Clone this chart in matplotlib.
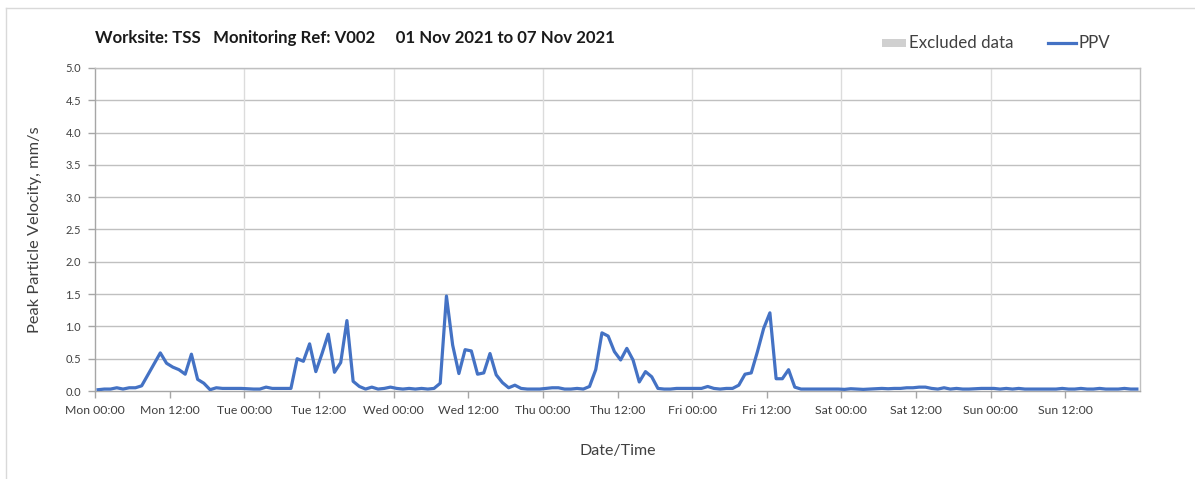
import matplotlib
matplotlib.use("Agg")
import matplotlib.pyplot as plt
from matplotlib.patches import Rectangle
from matplotlib.lines import Line2D
import numpy as np

# hourly PPV values (mm/s), Mon 00:00 .. Sun 23:00, plotted at the half hour
ppv = [
    # Mon
    0.02, 0.03, 0.03, 0.05, 0.03, 0.05, 0.05, 0.08, 0.25, 0.42, 0.59, 0.43,
    0.37, 0.33, 0.26, 0.57, 0.18, 0.12, 0.02, 0.05, 0.04, 0.04, 0.04, 0.04,
    # Tue
    0.035, 0.03, 0.03, 0.06, 0.04, 0.04, 0.04, 0.04, 0.50, 0.46, 0.73, 0.30,
    0.58, 0.88, 0.29, 0.44, 1.09, 0.15, 0.07, 0.03, 0.06, 0.03, 0.04, 0.06,
    # Wed
    0.04, 0.03, 0.04, 0.03, 0.04, 0.03, 0.04, 0.12, 1.47, 0.71, 0.27, 0.64,
    0.62, 0.26, 0.28, 0.58, 0.25, 0.13, 0.05, 0.09, 0.04, 0.03, 0.03, 0.03,
    # Thu
    0.04, 0.05, 0.05, 0.03, 0.03, 0.04, 0.03, 0.07, 0.33, 0.90, 0.85, 0.61,
    0.48, 0.66, 0.48, 0.14, 0.30, 0.22, 0.04, 0.03, 0.03, 0.04, 0.04, 0.04,
    # Fri
    0.04, 0.04, 0.07, 0.04, 0.03, 0.04, 0.04, 0.09, 0.26, 0.28, 0.61, 0.97,
    1.21, 0.19, 0.19, 0.33, 0.06, 0.03, 0.03, 0.03, 0.03, 0.03, 0.03, 0.03,
    # Sat
    0.025, 0.035, 0.03, 0.025, 0.03, 0.035, 0.04, 0.035, 0.04, 0.04, 0.05, 0.05,
    0.06, 0.06, 0.04, 0.03, 0.05, 0.03, 0.04, 0.03, 0.03, 0.035, 0.04, 0.04,
    # Sun
    0.04, 0.03, 0.04, 0.03, 0.04, 0.03, 0.03, 0.03, 0.03, 0.03, 0.03, 0.04,
    0.03, 0.03, 0.04, 0.03, 0.03, 0.04, 0.03, 0.03, 0.03, 0.04, 0.03, 0.03,
]
hours = np.arange(len(ppv)) + 0.5

tick_labels = ["Mon 00:00", "Mon 12:00", "Tue 00:00", "Tue 12:00", "Wed 00:00",
               "Wed 12:00", "Thu 00:00", "Thu 12:00", "Fri 00:00", "Fri 12:00",
               "Sat 00:00", "Sat 12:00", "Sun 00:00", "Sun 12:00"]
y_ticks = [0.0, 0.5, 1.0, 1.5, 2.0, 2.5, 3.0, 3.5, 4.0, 4.5, 5.0]

title = "Worksite: TSS   Monitoring Ref: V002     01 Nov 2021 to 07 Nov 2021"

plt.rcParams['font.family'] = ['Lato', 'DejaVu Sans']

W, H = 1195, 479
fig = plt.figure(figsize=(W / 100, H / 100), dpi=100)
fig.patch.set_facecolor("white")

# outer chart border (left and top edges visible)
fig.lines.append(Line2D([5.5 / W, 5.5 / W], [0, 1 - 7.5 / H],
                        transform=fig.transFigure, color="#d9d9d9", linewidth=1.0))
fig.lines.append(Line2D([5.5 / W, 1], [1 - 7.5 / H, 1 - 7.5 / H],
                        transform=fig.transFigure, color="#d9d9d9", linewidth=1.0))

ax = fig.add_axes([95 / W, 88 / H, 1045 / W, 323 / H])
ax.set_xlim(0, 168)
ax.set_ylim(0, 5.0)

# gridlines
for yv in y_ticks[1:]:
    ax.axhline(yv, color="#c0c0c0", linewidth=1.0, zorder=1)
for d in range(24, 168, 24):
    ax.axvline(d, color="#dcdcdc", linewidth=1.0, zorder=1)

ax.plot(hours, ppv, color="#4472C4", linewidth=2.3, zorder=3,
        solid_joinstyle="round")

ax.set_xticks(np.arange(0, 168, 12))
ax.set_xticklabels(tick_labels)
ax.set_yticks(y_ticks)
ax.set_yticklabels([f"{v:.1f}" for v in y_ticks])

for s in ax.spines.values():
    s.set_color("#c0c0c0")
    s.set_linewidth(1.0)
ax.spines["left"].set_color("#a6a6a6")
ax.spines["bottom"].set_color("#a6a6a6")

ax.tick_params(axis="both", colors="#a6a6a6", length=5, width=1.0)
ax.tick_params(axis="x", labelsize=8.8, labelcolor="#404040", pad=5)
ax.tick_params(axis="y", labelsize=8, labelcolor="#404040", pad=5)

ax.set_ylabel("Peak Particle Velocity, mm/s", fontsize=11.8, color="#404040",
              labelpad=17)
ax.set_xlabel("Date/Time", fontsize=11.5, color="#404040", labelpad=20)

fig.text(95 / W, 1 - 38 / H, title, fontsize=12.1, fontweight="bold",
         color="#1a1a1a", ha="left", va="center")

# legend
fig.patches.append(Rectangle((882 / W, 1 - 47 / H), 24 / W, 8 / H,
                             transform=fig.transFigure, facecolor="#d0d0d0",
                             edgecolor="none"))
fig.text(909 / W, 1 - 43 / H, "Excluded data", fontsize=12.2, color="#404040",
         ha="left", va="center")
fig.lines.append(Line2D([1048 / W, 1076 / W], [1 - 43 / H, 1 - 43 / H],
                        transform=fig.transFigure, color="#4472C4",
                        linewidth=2.3))
fig.text(1078 / W, 1 - 43 / H, "PPV", fontsize=12.2, color="#404040",
         ha="left", va="center")

fig.savefig("out.png", dpi=100)
